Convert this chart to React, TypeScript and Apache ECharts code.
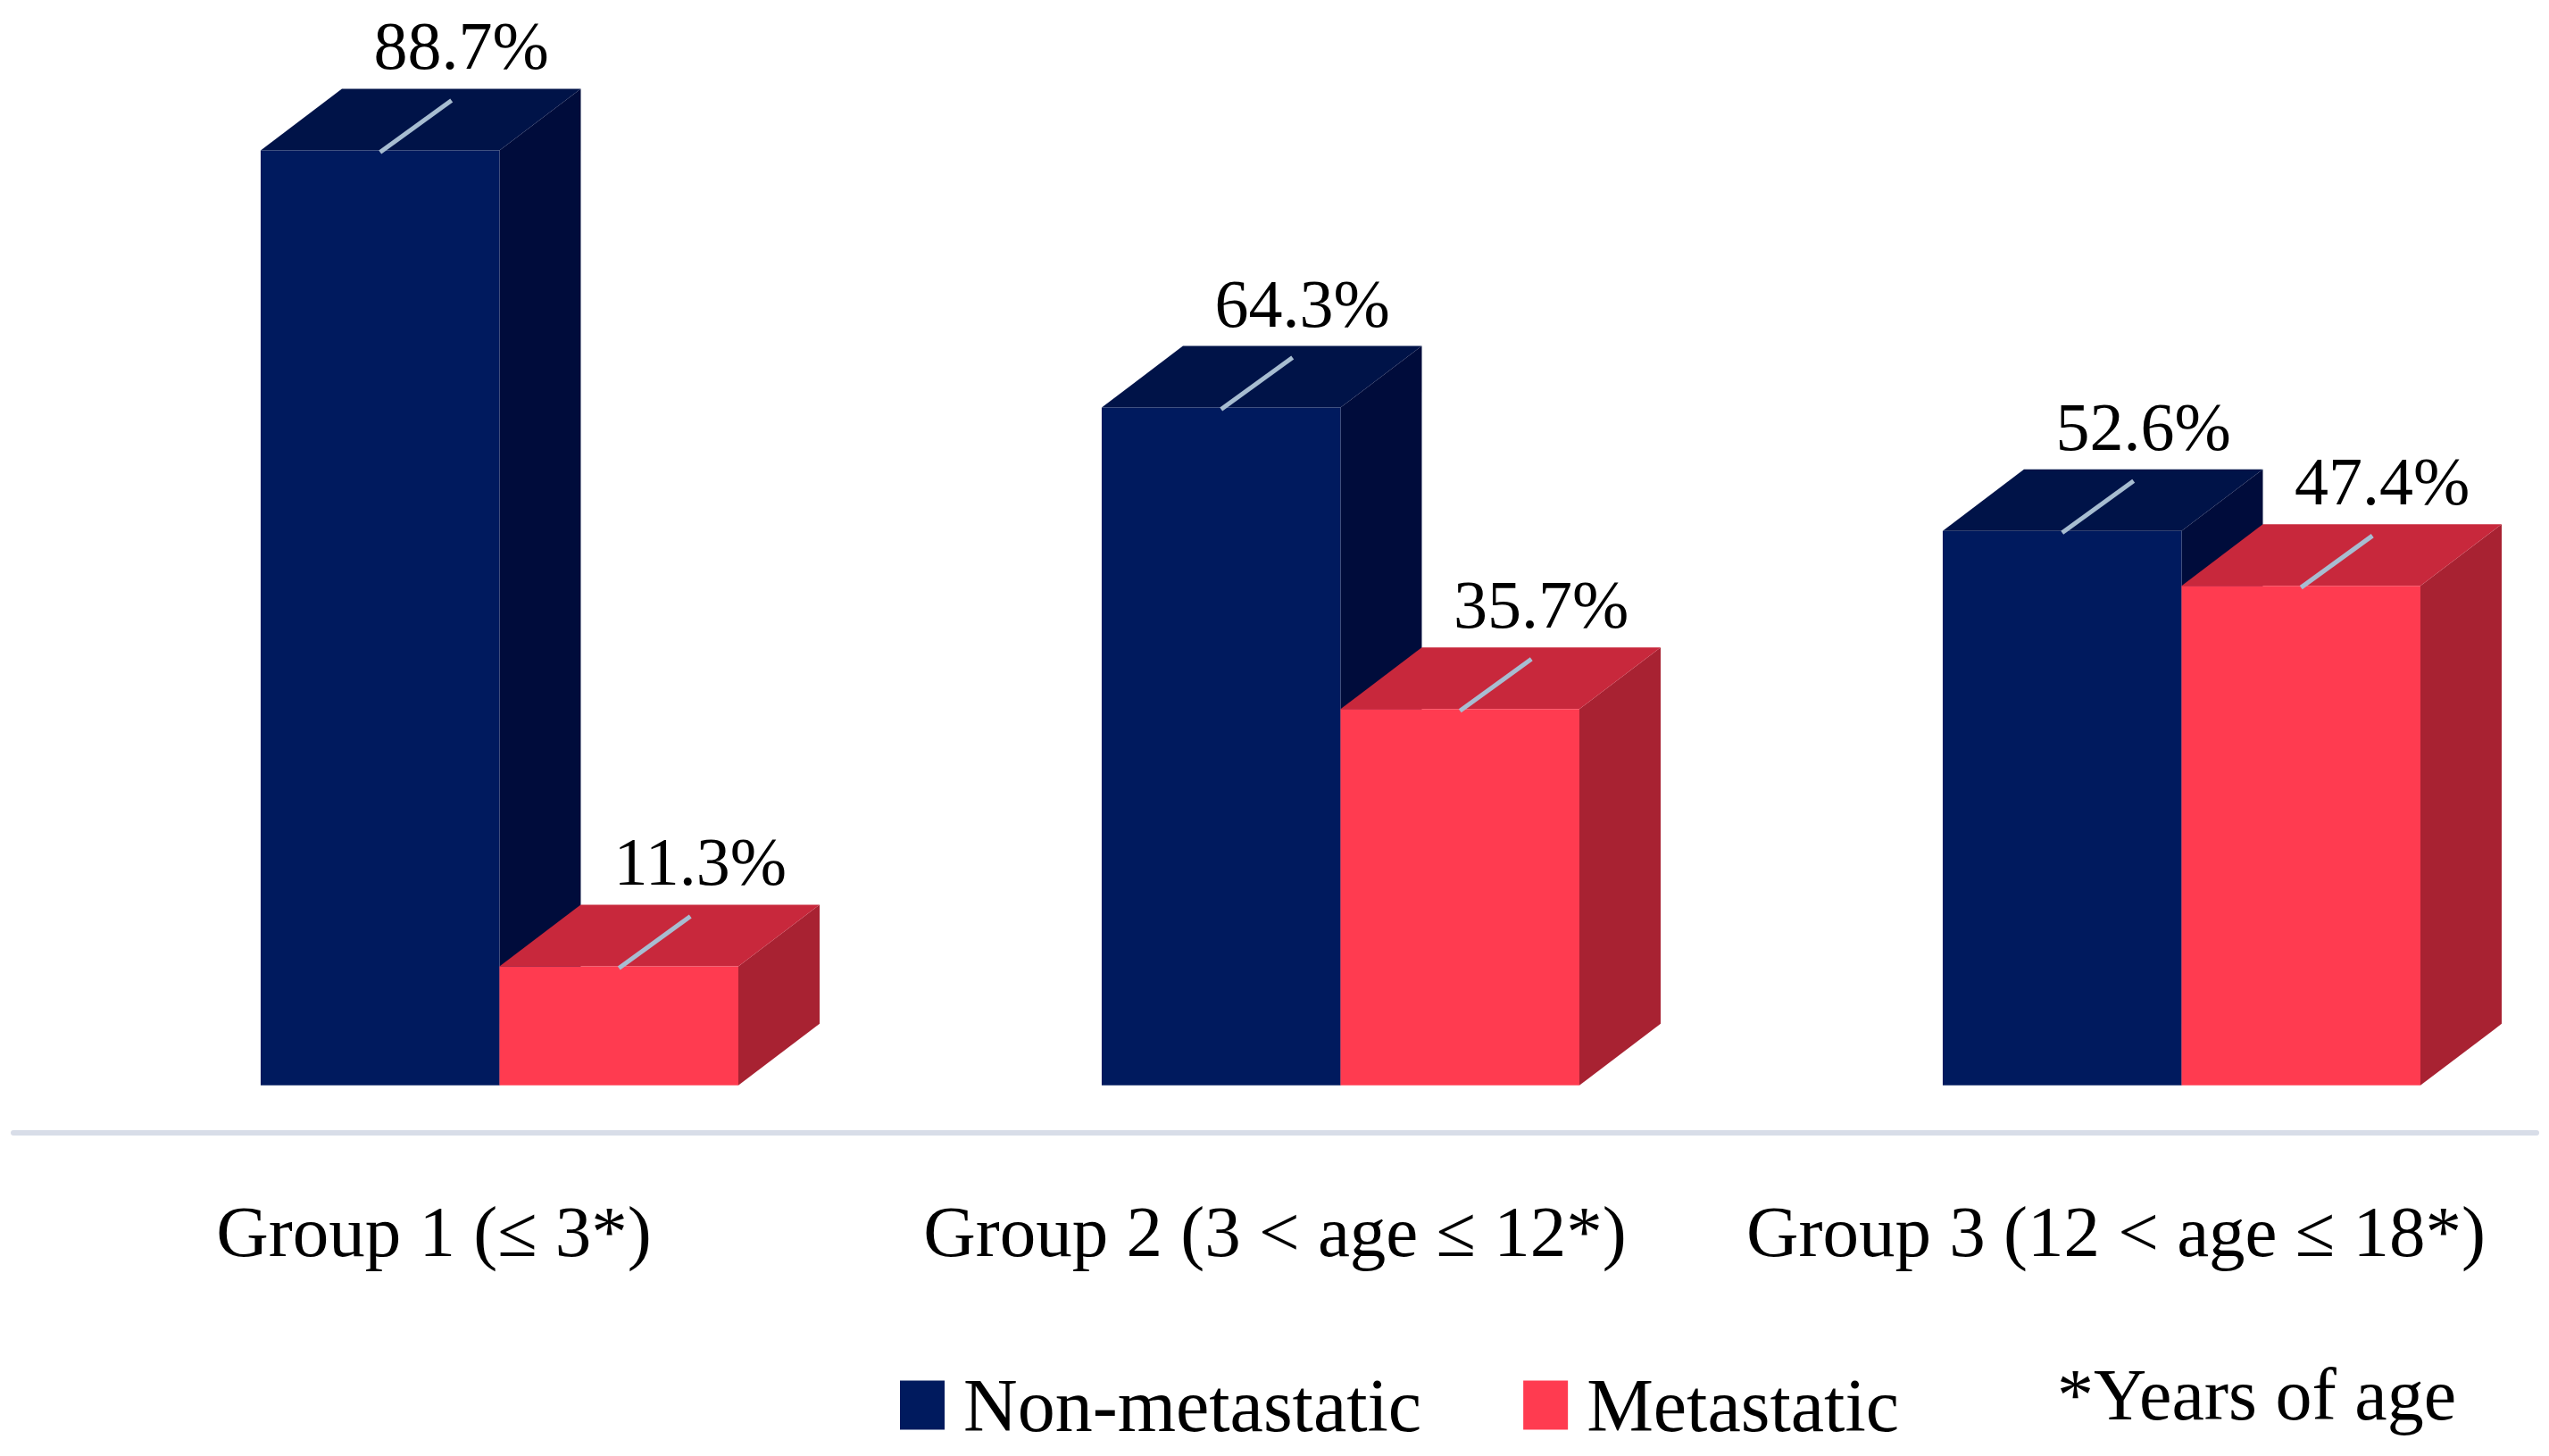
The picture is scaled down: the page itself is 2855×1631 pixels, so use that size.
import React, { useEffect, useRef } from "react";
import * as echarts from "echarts";

const categories = ["Group 1 (≤ 3*)", "Group 2 (3 < age ≤ 12*)", "Group 3 (12 < age ≤ 18*)"];
const nonMetastatic = [88.7, 64.3, 52.6];
const metastatic = [11.3, 35.7, 47.4];
const seriesNames = ["Non-metastatic", "Metastatic"];
const footnote = "*Years of age";

const FONT = '"Palatino Linotype", "Book Antiqua", Palatino, "Liberation Serif", serif';

const palettes = [
  { front: "#001a5e", top: "#001348", side: "#000c3b" },
  { front: "#ff3b50", top: "#c8283c", side: "#a82232" },
];

const DX = 91;
const DY = 69;

function makeRender(idx: number) {
  return (params: any, api: any) => {
    const catIndex = api.value(0);
    const val = api.value(1);
    const base = api.coord([catIndex, 0]);
    const topPt = api.coord([catIndex, val]);
    const band = api.size([1, 0])[0];
    const w = band * 0.284;
    const x0 = base[0] + band * (idx === 0 ? -0.206 : 0.078);
    const x1 = x0 + w;
    const yb = base[1];
    const yt = topPt[1];
    const pal = palettes[idx];
    const cx = x0 + w / 2;
    return {
      type: "group",
      children: [
        {
          type: "polygon",
          shape: { points: [[x1, yt], [x1 + DX, yt - DY], [x1 + DX, yb - DY], [x1, yb]] },
          style: { fill: pal.side },
        },
        {
          type: "polygon",
          shape: { points: [[x0, yt], [x0 + DX, yt - DY], [x1 + DX, yt - DY], [x1, yt]] },
          style: { fill: pal.top },
        },
        {
          type: "rect",
          shape: { x: x0, y: yt, width: w, height: yb - yt },
          style: { fill: pal.front },
        },
        {
          type: "line",
          shape: { x1: cx, y1: yt + 2, x2: cx + 80, y2: yt - 56 },
          style: { stroke: "#a7bdd1", lineWidth: 5 },
        },
        {
          type: "text",
          style: {
            text: val.toFixed(1) + "%",
            x: cx + DX,
            y: yt - DY - 48,
            align: "center",
            verticalAlign: "middle",
            fontSize: 76,
            fontFamily: FONT,
            fill: "#000",
          },
        },
      ],
    };
  };
}

export default function App() {
  const ref = useRef<HTMLDivElement>(null);
  useEffect(() => {
    if (!ref.current) return;
    const chart = echarts.init(ref.current, undefined, { renderer: "svg" });
    const option: any = {
      animation: false,
      backgroundColor: "#ffffff",
      tooltip: { show: false },
      grid: { left: 15, right: 14, top: 35, bottom: 362, containLabel: false },
      xAxis: {
        type: "category",
        data: categories,
        axisLine: { show: true, onZero: false, lineStyle: { color: "#d8dde8", width: 6 } },
        axisTick: { show: false },
        axisLabel: { fontSize: 81, fontFamily: FONT, color: "#000", margin: 70, interval: 0 },
        splitLine: { show: false },
      },
      yAxis: { type: "value", min: -4.5, max: 100, show: false },
      legend: {
        left: 1003,
        top: 1527,
        icon: "rect",
        itemWidth: 50,
        itemHeight: 55,
        itemGap: 114,
        textStyle: { fontSize: 84, fontFamily: FONT, color: "#000", padding: [0, 0, 0, 16] },
        data: seriesNames,
      },
      graphic: [
        {
          type: "text",
          left: 2304,
          top: 1521,
          style: { text: footnote, fontSize: 82, fontFamily: FONT, fill: "#000" },
        },
      ],
      series: [
        {
          type: "custom",
          name: seriesNames[0],
          itemStyle: { color: palettes[0].front },
          renderItem: makeRender(0),
          data: nonMetastatic.map((v, i) => [i, v]),
          encode: { x: 0, y: 1 },
        },
        {
          type: "custom",
          name: seriesNames[1],
          itemStyle: { color: palettes[1].front },
          renderItem: makeRender(1),
          data: metastatic.map((v, i) => [i, v]),
          encode: { x: 0, y: 1 },
        },
      ],
    };
    chart.setOption(option);
    return () => chart.dispose();
  }, []);
  return (
    <div
      ref={ref}
      style={{ position: "absolute", left: 0, top: 0, width: 2855, height: 1631 }}
    />
  );
}
